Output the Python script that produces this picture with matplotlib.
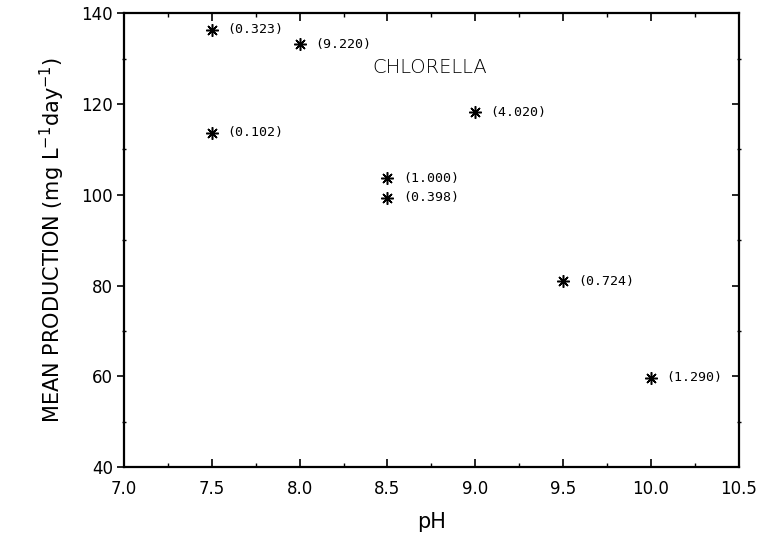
import matplotlib
matplotlib.use("Agg")
import matplotlib.pyplot as plt
from matplotlib.ticker import MultipleLocator

# Chlorella mean production against pH, with the bracketed value per run
ph = [7.5, 8.0, 7.5, 9.0, 8.5, 8.5, 9.5, 10.0]
production = [136.3, 133.2, 113.7, 118.2, 103.6, 99.3, 81.0, 59.7]
point_labels = ["(0.323)", "(9.220)", "(0.102)", "(4.020)",
                "(1.000)", "(0.398)", "(0.724)", "(1.290)"]

x_ticks = [7.0, 7.5, 8.0, 8.5, 9.0, 9.5, 10.0, 10.5]
y_ticks = [40, 60, 80, 100, 120, 140]


def plot_chlorella():
    fig = plt.figure(figsize=(7.71, 5.49), dpi=100)
    ax = fig.add_axes([0.161, 0.149, 0.797, 0.827])

    # asterisk markers, 8 arms
    ax.plot(ph, production, linestyle="none", marker=(8, 2, 0),
            markersize=9, markeredgewidth=1.1, color="black")

    for x, y, lab in zip(ph, production, point_labels):
        ax.annotate(lab, (x, y), xytext=(11, 0), textcoords="offset points",
                    va="center", ha="left", fontsize=9.5,
                    family="DejaVu Sans Mono")

    ax.text(8.74, 128.0, "CHLORELLA", ha="center", va="center",
            fontsize=14, fontweight="light")

    ax.set_xlim(7.0, 10.5)
    ax.set_ylim(40, 140)
    ax.set_xticks(x_ticks)
    ax.set_xticklabels([f"{t:.1f}" for t in x_ticks])
    ax.set_yticks(y_ticks)
    ax.xaxis.set_minor_locator(MultipleLocator(0.25))
    ax.yaxis.set_minor_locator(MultipleLocator(10))

    ax.tick_params(axis="x", which="major", direction="in", length=6,
                   width=1.2, top=True, labelsize=12, pad=9)
    ax.tick_params(axis="x", which="minor", direction="in", length=3,
                   width=1.0, top=True)
    ax.tick_params(axis="y", which="major", direction="out", length=5,
                   width=1.2, labelsize=12, pad=3)
    ax.tick_params(axis="y", which="minor", direction="inout", length=3,
                   width=1.0, right=True)

    for side in ax.spines.values():
        side.set_linewidth(1.6)

    # right-hand ticks point into the frame
    ax.tick_params(axis="y", which="major", right=True)
    for tick in ax.yaxis.get_major_ticks():
        tick.tick2line.set_marker(matplotlib.lines.TICKLEFT)

    ax.set_xlabel("pH", fontsize=15, labelpad=10)
    ax.set_ylabel("MEAN PRODUCTION (mg L$^{-1}$day$^{-1}$)", fontsize=15,
                  labelpad=10)

    fig.savefig("out.png", dpi=100)


if __name__ == "__main__":
    plot_chlorella()
